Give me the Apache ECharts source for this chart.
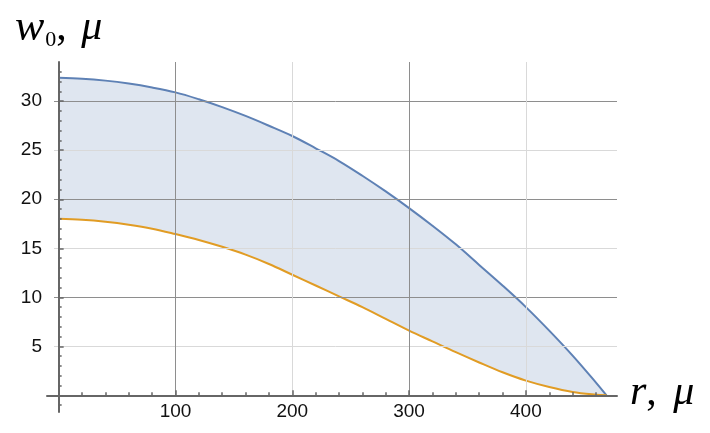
<!DOCTYPE html>
<html><head><meta charset="utf-8">
<script src="https://cdn.jsdelivr.net/npm/echarts@6/dist/echarts.min.js"></script>
<style>html,body{margin:0;padding:0;background:#fff}#c{width:710px;height:433px}</style>
</head><body><div id="c"></div>
<script>
// ---- data ----
const rValues = [0,20,40,60,80,100,120,140,160,180,200,220,240,260,280,300,320,340,360,380,400,420,440,460,469];
const upperW  = [32.4,32.3,32.1,31.8,31.4,30.9,30.2,29.4,28.5,27.5,26.45,25.2,23.9,22.4,20.8,19.1,17.3,15.4,13.3,11.2,9.0,6.6,4.05,1.3,0];
const lowerW  = [18.0,17.9,17.7,17.4,17.0,16.45,15.85,15.15,14.35,13.4,12.3,11.2,10.1,9.0,7.8,6.6,5.5,4.4,3.35,2.35,1.5,0.85,0.35,0.07,0];
const xTickLabels = [100,200,300,400];
const yTickLabels = [5,10,15,20,25,30];
const xRange = [-10, 478];
const yRange = [-1.7, 34];

// ---- styles ----
const blue = '#5e81b5', orange = '#e19c24';
const axisColor = '#666666';
const darkGrid = '#8e8e8e', lightGrid = '#d9d9d9';
const serif = 'Liberation Serif';
const sans = 'Liberation Sans';

const upperPts = rValues.map((r,i)=>[r, upperW[i]]);
const lowerPts = rValues.map((r,i)=>[r, lowerW[i]]);
// stacked band: value column first so the stack applies to w (y), not r (x)
const baseCols = rValues.map((r,i)=>[lowerW[i], r]);
const bandCols = rValues.map((r,i)=>[upperW[i]-lowerW[i], r]);

const gridLines = [];
yTickLabels.forEach((v,i)=>{
  gridLines.push([{coord:[-4, v], lineStyle:{color: i%2===0 ? lightGrid : darkGrid}}, {coord:[xRange[1], v]}]);
});
xTickLabels.forEach((v,i)=>{
  gridLines.push([{coord:[v, 0], lineStyle:{color: i%2===0 ? darkGrid : lightGrid}}, {coord:[v, yRange[1]]}]);
});

const smooth = 0.35;
const big = 42;
const chart = echarts.init(document.getElementById('c'));
chart.setOption({
  animation: false,
  backgroundColor: '#fff',
  grid: {left: 47, right: 93, top: 62, bottom: 21, containLabel: false, outerBoundsMode: 'none'},
  xAxis: {
    type: 'value', min: xRange[0], max: xRange[1], splitNumber: 5, z: 10,
    axisLine: {onZero: true, lineStyle: {color: axisColor, width: 2}},
    axisTick: {show: true, inside: true, length: 5, customValues: [0].concat(xTickLabels), lineStyle: {color: axisColor, width: 1.5}},
    minorTick: {show: true, splitNumber: 5, length: 3, lineStyle: {color: axisColor, width: 1.5}},
    axisLabel: {customValues: xTickLabels, margin: -10, color: '#111', fontFamily: sans, fontSize: 19},
    splitLine: {show: false},
    name: '{r|r}{c|, }{m|μ}', nameLocation: 'end', nameGap: 13,
    nameTextStyle: {align: 'left', verticalAlign: 'middle', padding: [0,0,4,0], rich: {
      r: {fontFamily: serif, fontStyle: 'italic', fontSize: big, color: '#000'},
      c: {fontFamily: serif, fontSize: big, color: '#000', padding: [0,6,0,0]},
      m: {fontFamily: serif, fontStyle: 'italic', fontSize: big, color: '#000'}
    }}
  },
  yAxis: {
    type: 'value', min: yRange[0], max: yRange[1], splitNumber: 7, z: 10,
    axisLine: {onZero: true, lineStyle: {color: axisColor, width: 2}},
    axisTick: {show: true, inside: true, length: 5, customValues: [0].concat(yTickLabels), lineStyle: {color: axisColor, width: 1.5}},
    minorTick: {show: true, splitNumber: 5, length: 3, lineStyle: {color: axisColor, width: 1.5}},
    axisLabel: {customValues: yTickLabels, margin: 5, color: '#111', fontFamily: sans, fontSize: 19},
    splitLine: {show: false},
    name: '{w|w}{s|0}{c|, }{m|μ}', nameLocation: 'end', nameGap: 12,
    nameTextStyle: {align: 'center', verticalAlign: 'bottom', rich: {
      w: {fontFamily: serif, fontStyle: 'italic', fontSize: big + 2, lineHeight: 44, color: '#000', verticalAlign: 'middle'},
      s: {fontFamily: serif, fontSize: 22, lineHeight: 22, padding: [24,0,0,1], color: '#000', verticalAlign: 'middle'},
      c: {fontFamily: serif, fontSize: big, lineHeight: 44, color: '#000', verticalAlign: 'middle', padding: [0,4,0,0]},
      m: {fontFamily: serif, fontStyle: 'italic', fontSize: big, lineHeight: 44, color: '#000', verticalAlign: 'middle'}
    }}
  },
  series: [
    {type: 'line', data: baseCols, encode: {x: 1, y: 0}, stack: 'band', smooth: smooth, symbol: 'none', z: 1,
     lineStyle: {opacity: 0}, silent: true,
     markLine: {silent: true, symbol: ['none','none'], label: {show: false}, lineStyle: {width: 1, type: 'solid'}, data: gridLines}},
    {type: 'line', data: bandCols, encode: {x: 1, y: 0}, stack: 'band', smooth: smooth, symbol: 'none', z: 2,
     lineStyle: {opacity: 0}, areaStyle: {color: 'rgba(94,129,181,0.2)', opacity: 1}, silent: true},
    {type: 'line', data: upperPts, smooth: smooth, symbol: 'none', z: 3, lineStyle: {color: blue, width: 2}},
    {type: 'line', data: lowerPts, smooth: smooth, symbol: 'none', z: 3, lineStyle: {color: orange, width: 2}}
  ]
});
</script></body></html>
